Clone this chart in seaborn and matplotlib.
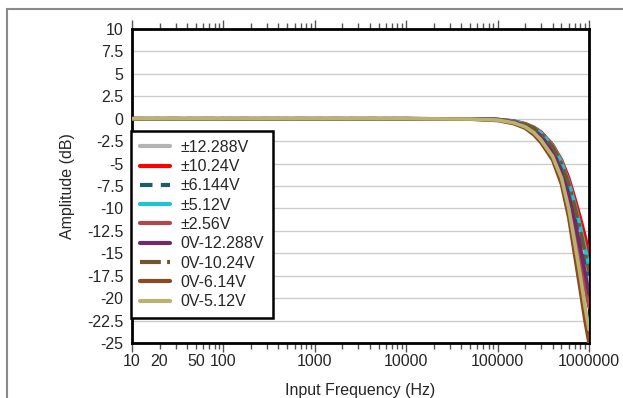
import numpy as np
import pandas as pd
import matplotlib
matplotlib.use("Agg")
import matplotlib.pyplot as plt
import matplotlib.ticker as mticker
from matplotlib.lines import Line2D
from matplotlib.patches import Rectangle
import seaborn as sns

# frequency points (Hz)
freq = [10, 100, 1000, 10000, 50000, 100000, 150000, 200000, 250000, 300000,
        400000, 500000, 600000, 700000, 800000, 900000, 1000000]

# amplitude (dB) per input range
amp_pm12288 = [0, 0, 0, 0, -0.03, -0.1, -0.33, -0.7, -1.15, -1.8, -3.4, -5.4, -7.9, -10.7, -13.4, -16.0, -18.5]
amp_pm1024 = [0, 0, 0, 0, -0.02, -0.08, -0.25, -0.55, -0.95, -1.5, -2.9, -4.6, -6.6, -8.9, -11.0, -13.0, -15.0]
amp_pm6144 = [0, 0, 0, 0, -0.03, -0.1, -0.3, -0.65, -1.1, -1.7, -3.2, -5.1, -7.5, -10.2, -12.8, -15.3, -17.5]
amp_pm512 = [0, 0, 0, 0, -0.02, -0.08, -0.28, -0.6, -1.0, -1.6, -3.0, -4.8, -7.0, -9.5, -11.9, -14.2, -16.5]
amp_pm256 = [0, 0, 0, 0, -0.03, -0.12, -0.38, -0.8, -1.35, -2.1, -3.8, -6.0, -9.0, -12.3, -15.5, -18.6, -21.0]
amp_0_12288 = [0, 0, 0, 0, -0.03, -0.1, -0.35, -0.75, -1.25, -1.95, -3.6, -5.7, -8.4, -11.4, -14.3, -17.0, -19.5]
amp_0_1024 = [0, 0, 0, 0, -0.03, -0.1, -0.3, -0.62, -1.05, -1.65, -3.1, -4.95, -7.2, -9.8, -12.3, -14.8, -17.0]
amp_0_614 = [0, 0, 0, 0, -0.05, -0.2, -0.55, -1.05, -1.8, -2.7, -4.6, -7.3, -11.0, -15.3, -19.0, -22.4, -25.0]
amp_0_512 = [0, 0, 0, 0, -0.04, -0.15, -0.45, -0.9, -1.55, -2.4, -4.2, -6.6, -10.0, -13.9, -17.4, -20.8, -23.5]

labels = ["±12.288V", "±10.24V", "±6.144V", "±5.12V", "±2.56V",
          "0V-12.288V", "0V-10.24V", "0V-6.14V", "0V-5.12V"]
series = [amp_pm12288, amp_pm1024, amp_pm6144, amp_pm512, amp_pm256,
          amp_0_12288, amp_0_1024, amp_0_614, amp_0_512]
colors = ["#b3b3b3", "#ff0000", "#1e5b6b", "#1cc4d4", "#b0474b",
          "#6e2a6a", "#6e5833", "#8b4a1f", "#b8b36e"]
dashes = ["-", "-", (0, (3, 2)), "-", "-", "-", (0, (5, 1.5, 1, 1.5)), "-", "-"]

x_ticks = [10, 100, 1000, 10000, 100000, 1000000]
y_ticks = [10, 7.5, 5, 2.5, 0, -2.5, -5, -7.5, -10, -12.5, -15, -17.5, -20, -22.5, -25]

df = pd.DataFrame({
    "freq": np.tile(freq, len(labels)),
    "amp": np.concatenate(series),
    "range": np.repeat(labels, len(freq)),
})

sns.set_style("white")
plt.rcParams["font.family"] = ["Liberation Sans", "DejaVu Sans"]
fs = 11.5

fig = plt.figure(figsize=(6.23, 3.98), dpi=100)
ax = fig.add_axes([132 / 623, 1 - 343 / 398, 457 / 623, 314 / 398])

# outer frame (only top and left edges fall inside the image)
fig.patches.append(Rectangle((7 / 623, -0.1), 1.2, 1.1 - 8.5 / 398, transform=fig.transFigure,
                             fill=False, edgecolor="#8a8a8a", linewidth=1.5))

for lab, col, ls in zip(labels, colors, dashes):
    sub = df[df["range"] == lab]
    sns.lineplot(data=sub, x="freq", y="amp", ax=ax, color=col, linewidth=2.6,
                 linestyle=ls, legend=False, zorder=3)

ax.set_xscale("log")
ax.set_xlim(10, 1000000)
ax.set_ylim(-25, 10)
ax.set_yticks(y_ticks)
ax.set_yticklabels([f"{v:g}" for v in y_ticks])
ax.yaxis.grid(True, color="#cccccc", linewidth=1)
ax.xaxis.grid(False)

ax.xaxis.set_major_locator(mticker.FixedLocator(x_ticks))
ax.xaxis.set_major_formatter(mticker.FixedFormatter([str(v) for v in x_ticks]))
ax.xaxis.set_minor_locator(mticker.LogLocator(base=10, subs=np.arange(2, 10), numticks=20))
ax.xaxis.set_minor_formatter(mticker.FuncFormatter(lambda v, p: str(int(round(v))) if round(v) in (20, 50) else ""))
ax.tick_params(axis="x", which="major", direction="out", length=6.5, width=1, color="#555555",
               top=True, bottom=True, labelsize=fs, pad=1.5)
ax.tick_params(axis="x", which="minor", direction="out", length=4.5, width=1, color="#555555",
               top=True, bottom=True, labelsize=fs, pad=3.5)
ax.tick_params(axis="y", length=0, labelsize=fs, pad=6)

for s in ax.spines.values():
    s.set_visible(True)
    s.set_color("black")
    s.set_linewidth(2)

ax.set_xlabel("Input Frequency (Hz)", fontsize=fs, labelpad=10)
ax.set_ylabel("Amplitude (dB)", fontsize=fs, labelpad=9)

handles = [Line2D([0], [0], color=c, lw=3, linestyle=l) for c, l in zip(colors, dashes)]
leg = fig.legend(handles, labels, loc="upper left", bbox_to_anchor=(131 / 623, 1 - 131 / 398),
                 frameon=True, fancybox=False, framealpha=1, edgecolor="black",
                 fontsize=fs, labelspacing=0.27, handlelength=1.9, handletextpad=0.65,
                 borderpad=0.55, borderaxespad=0)
leg.get_frame().set_linewidth(1.8)
leg.set_zorder(5)

fig.savefig("out.png", dpi=100)
